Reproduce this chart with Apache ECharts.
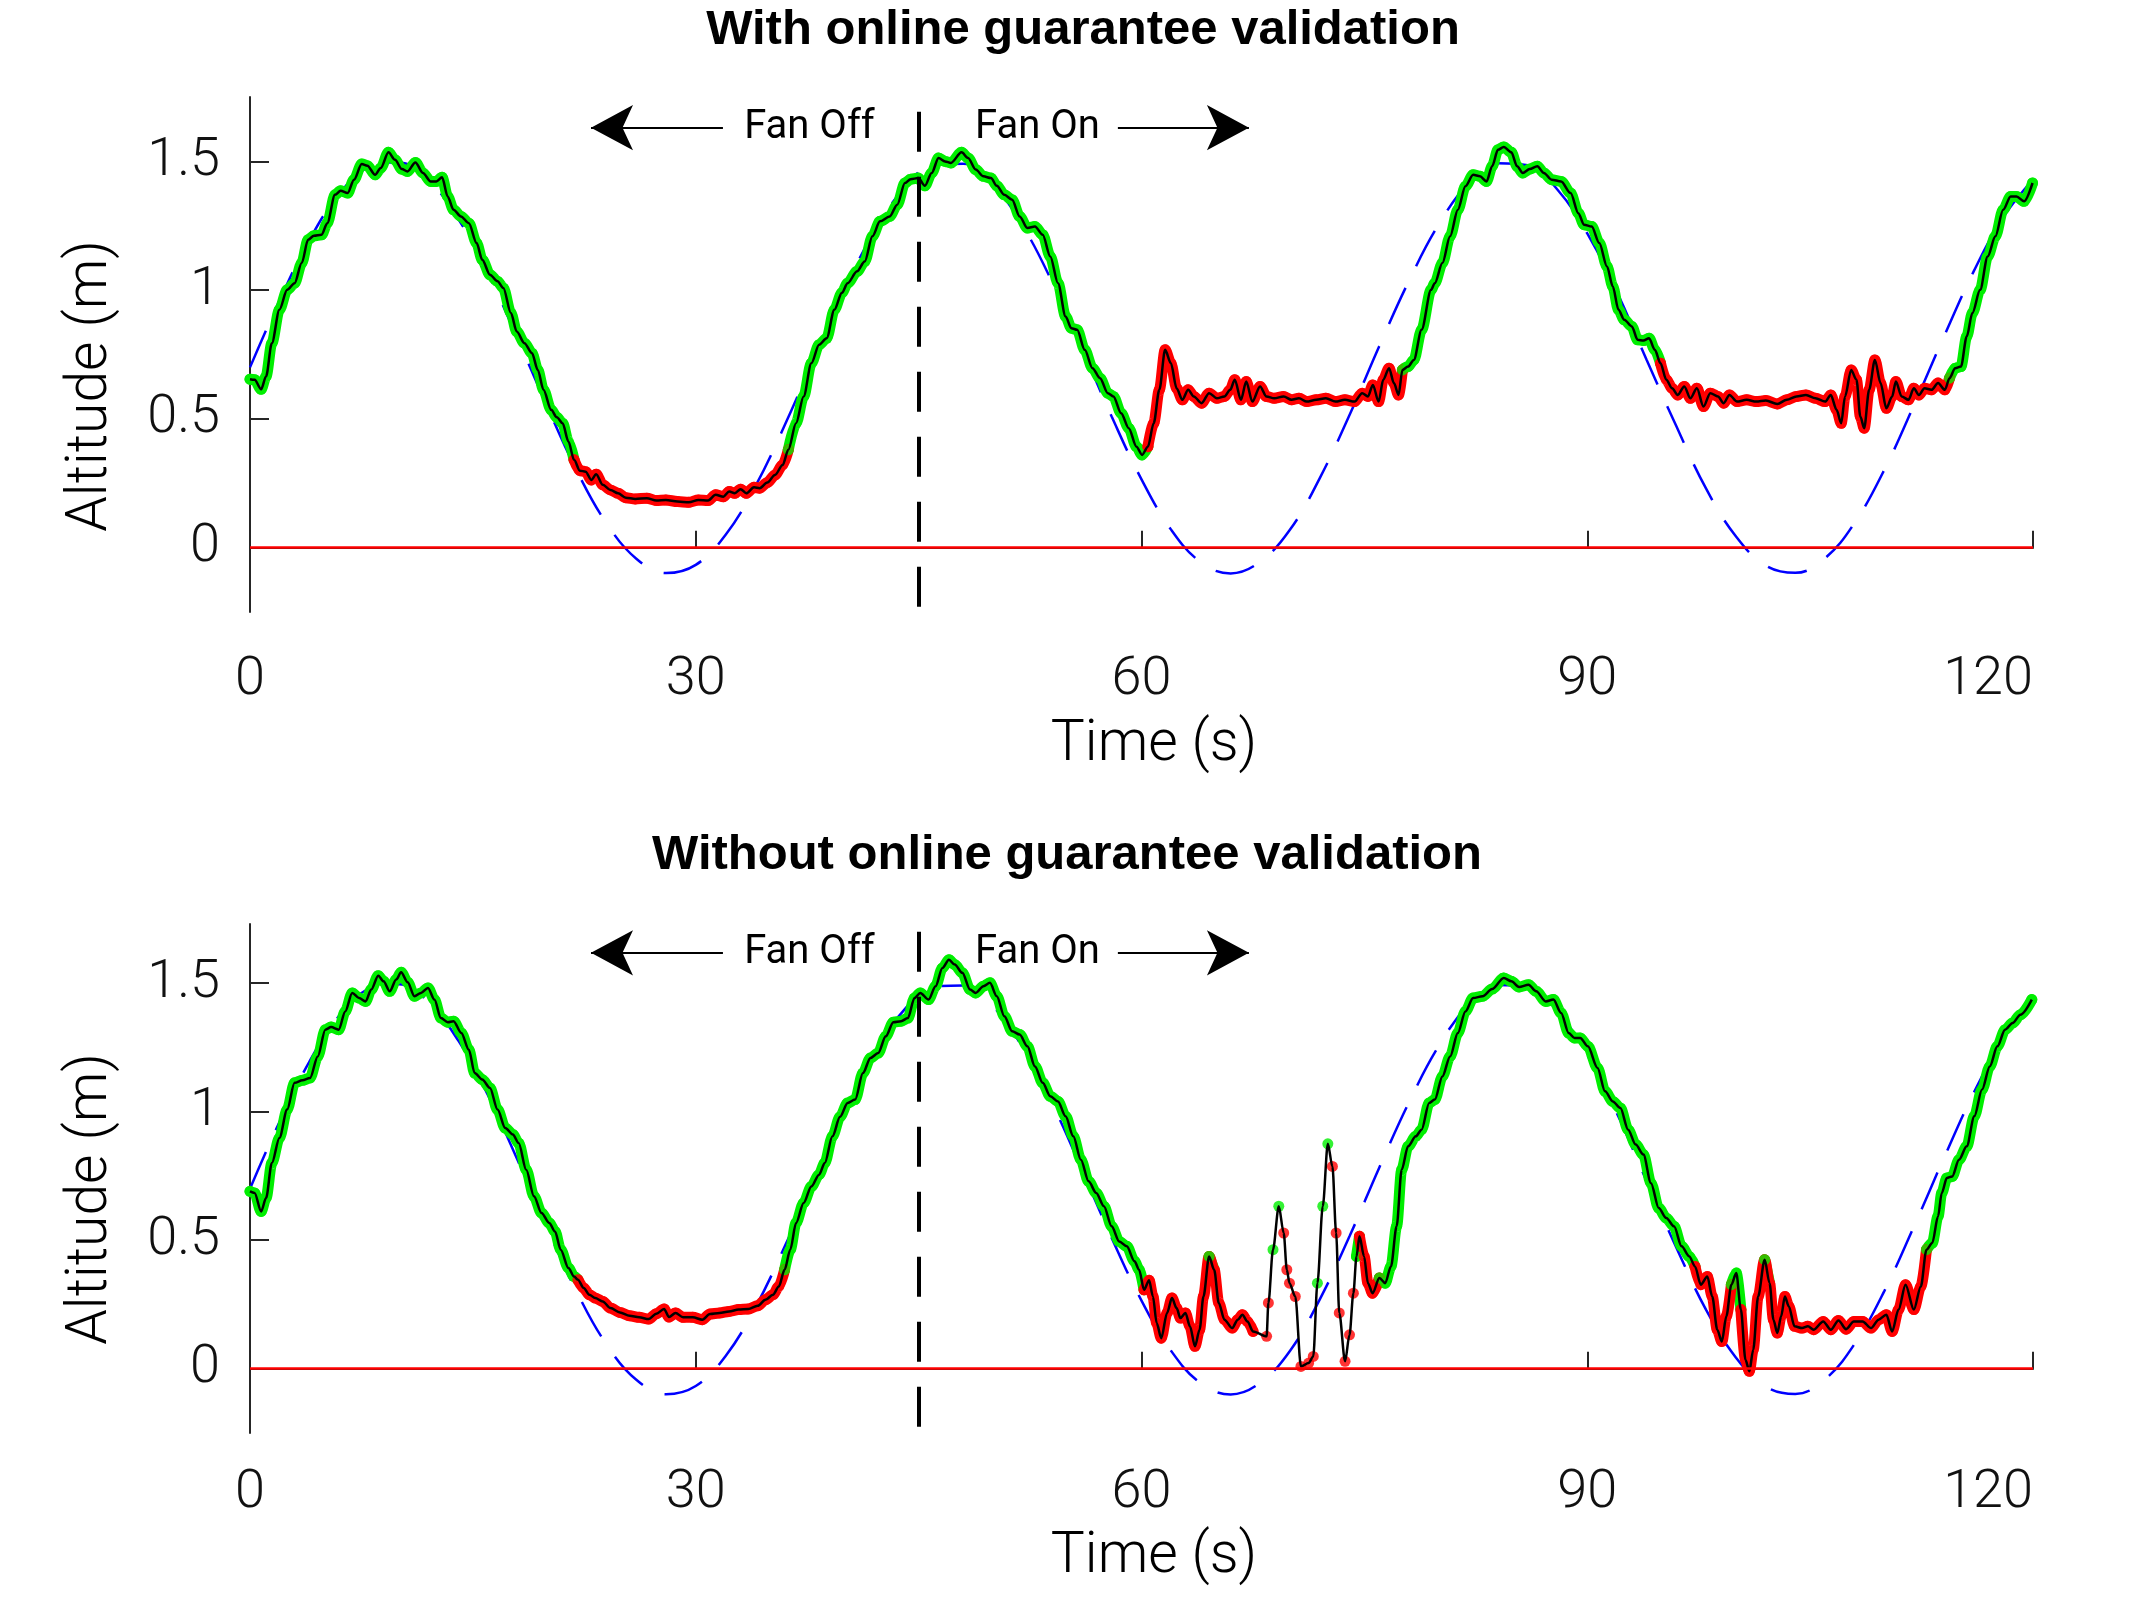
<!DOCTYPE html>
<html>
<head>
<meta charset="utf-8">
<title>Altitude tracking</title>
<script src="https://cdn.jsdelivr.net/npm/echarts@6/dist/echarts.min.js"></script>
<style>
  html, body { margin: 0; padding: 0; background: #fff; }
  #chart { width: 2134px; height: 1600px; }
</style>
</head>
<body>
<div id="chart"></div>
<script>
// reference altitude (blue dashed), sampled every 2 s
const refTime = [0, 2, 4, 6, 8, 10, 12, 14, 16, 18, 20, 22, 24, 26, 28, 30, 32, 34, 36, 38, 40,
  42, 44, 46, 48, 50, 52, 54, 56, 58, 60, 62, 64, 66, 68, 70, 72, 74, 76, 78, 80,
  82, 84, 86, 88, 90, 92, 94, 96, 98, 100, 102, 104, 106, 108, 110, 112, 114, 116, 118, 120]
const refAlt = [0.700, 0.962, 1.195, 1.373, 1.478, 1.496, 1.427, 1.278, 1.066, 0.813, 0.548,
  0.298, 0.094, -0.043, -0.099, -0.067, 0.049, 0.237, 0.477, 0.740, 1.000,
  1.226, 1.394, 1.486, 1.491, 1.410, 1.250, 1.030, 0.773, 0.508, 0.265,
  0.069, -0.057, -0.100, -0.054, 0.070, 0.270, 0.515, 0.782, 1.036, 1.255,
  1.414, 1.493, 1.485, 1.390, 1.220, 0.993, 0.729, 0.471, 0.229, 0.044,
  -0.069, -0.098, -0.041, 0.097, 0.303, 0.555, 0.819, 1.072, 1.283, 1.430]

// measured altitude, with online guarantee validation
const topTime = [0, 0.31, 0.75, 1.08, 1.47, 1.98, 2.5, 3.0, 3.48, 3.91, 4.3, 4.82, 5.2, 5.72, 6.1, 6.57,
  7.0, 7.52, 7.9, 8.42, 8.8, 9.32, 9.76, 10.22, 10.6, 11.13, 11.64, 12.16, 12.54, 12.93, 13.3,
  13.7, 14.2, 14.73, 15.25, 15.63, 16.15, 16.66, 17.05, 17.56, 17.95, 18.47, 18.98, 19.37, 19.75,
  20.27, 20.65, 21.04, 21.43, 21.81, 22.2, 22.59, 22.97, 23.3, 23.74, 24.26, 24.77, 25.29, 25.93,
  26.71, 27.35, 27.99, 28.77, 29.54, 30.18, 30.83, 31.34, 31.86, 32.25, 32.63, 33.02, 33.4, 33.92,
  34.3, 34.82, 35.33, 35.85, 36.23, 36.75, 37.26, 37.78, 38.3, 38.81, 39.33, 39.84, 40.22, 40.86,
  41.37, 41.89, 42.4, 43.05, 43.56, 44.08, 44.46, 44.98, 45.42, 45.88, 46.34, 46.78, 47.17, 47.89,
  48.33, 48.84, 49.36, 49.87, 50.26, 50.77, 51.29, 51.8, 52.32, 52.83, 53.35, 53.86, 54.38, 54.89,
  55.28, 55.67, 56.18, 56.7, 57.21, 57.73, 58.11, 58.63, 59.14, 59.66, 60.04, 60.43, 60.82, 61.2,
  61.59, 61.98, 62.36, 62.75, 63.14, 63.52, 64.04, 64.55, 65.07, 65.58, 65.97, 66.28, 66.69, 67.05,
  67.46, 67.98, 68.41, 68.93, 69.57, 70.09, 70.6, 71.12, 71.76, 72.41, 73.05, 73.69, 74.34, 74.85,
  75.24, 75.57, 75.96, 76.27, 76.66, 76.99, 77.3, 77.56, 77.94, 78.33, 78.85, 79.49, 79.74, 80.25,
  80.77, 81.29, 81.8, 82.32, 82.78, 83.22, 83.6, 83.99, 84.38, 84.89, 85.28, 85.66, 86.13, 86.64,
  87.08, 87.6, 88.24, 88.88, 89.4, 89.78, 90.3, 90.81, 91.33, 91.72, 92.1, 92.49, 93.0, 93.39,
  93.78, 94.16, 94.55, 94.93, 95.32, 95.71, 96.09, 96.53, 96.94, 97.38, 97.82, 98.28, 98.8, 99.18,
  99.57, 100.08, 100.73, 101.37, 102.02, 102.79, 103.43, 104.08, 104.72, 105.36, 106.01, 106.39,
  106.78, 107.09, 107.35, 107.76, 108.12, 108.38, 108.64, 108.97, 109.36, 109.74, 110.13, 110.52,
  110.77, 111.16, 111.62, 111.98, 112.32, 112.7, 113.17, 113.61, 114.07, 114.38, 114.76, 115.15,
  115.54, 115.92, 116.44, 116.95, 117.47, 117.99, 118.5, 118.89, 119.4, 119.97]
const topAlt = [0.654, 0.652, 0.615, 0.665, 0.794, 0.924, 1.001, 1.027, 1.105, 1.196, 1.211, 1.215, 1.260, 1.370, 1.386, 1.377,
  1.429, 1.490, 1.483, 1.448, 1.474, 1.535, 1.506, 1.470, 1.461, 1.496, 1.455, 1.422, 1.422, 1.438, 1.364,
  1.312, 1.286, 1.260, 1.183, 1.118, 1.060, 1.034, 1.008, 0.911, 0.839, 0.794, 0.755, 0.690, 0.613,
  0.535, 0.506, 0.483, 0.412, 0.341, 0.299, 0.295, 0.263, 0.285, 0.244, 0.224, 0.211, 0.194, 0.189,
  0.192, 0.183, 0.185, 0.179, 0.176, 0.185, 0.183, 0.205, 0.198, 0.218, 0.211, 0.227, 0.211, 0.234,
  0.231, 0.253, 0.282, 0.321, 0.380, 0.483, 0.587, 0.716, 0.788, 0.813, 0.924, 0.990, 1.027, 1.073,
  1.111, 1.209, 1.267, 1.286, 1.332, 1.416, 1.431, 1.435, 1.405, 1.455, 1.513, 1.500, 1.494, 1.535,
  1.513, 1.468, 1.442, 1.435, 1.405, 1.370, 1.351, 1.286, 1.241, 1.247, 1.215, 1.131, 1.027, 0.898,
  0.852, 0.846, 0.768, 0.697, 0.658, 0.600, 0.587, 0.522, 0.464, 0.392, 0.360, 0.392, 0.483, 0.613,
  0.768, 0.716, 0.619, 0.574, 0.613, 0.587, 0.561, 0.600, 0.580, 0.587, 0.613, 0.652, 0.574, 0.645,
  0.567, 0.626, 0.587, 0.580, 0.587, 0.574, 0.580, 0.567, 0.574, 0.580, 0.567, 0.574, 0.567, 0.600,
  0.587, 0.632, 0.567, 0.652, 0.697, 0.639, 0.593, 0.690, 0.703, 0.729, 0.846, 1.001, 1.027, 1.105,
  1.209, 1.312, 1.403, 1.448, 1.442, 1.422, 1.481, 1.545, 1.556, 1.535, 1.481, 1.455, 1.470, 1.481,
  1.455, 1.429, 1.422, 1.377, 1.299, 1.254, 1.247, 1.183, 1.092, 1.014, 0.924, 0.885, 0.859, 0.807,
  0.804, 0.813, 0.768, 0.716, 0.652, 0.619, 0.593, 0.626, 0.580, 0.619, 0.548, 0.600, 0.587, 0.561,
  0.593, 0.567, 0.574, 0.567, 0.571, 0.558, 0.574, 0.587, 0.593, 0.580, 0.567, 0.593,
  0.535, 0.483, 0.587, 0.690, 0.652, 0.509, 0.464, 0.613, 0.729, 0.639, 0.541, 0.587,
  0.645, 0.587, 0.574, 0.619, 0.593, 0.619, 0.613, 0.639, 0.613, 0.658, 0.697, 0.703,
  0.820, 0.911, 1.001, 1.131, 1.209, 1.312, 1.364, 1.364, 1.345, 1.416]
// time windows where the guarantee is flagged (red)
const topInvalid = [[21.45, 35.85], [60.1, 77.5], [94.9, 114.35]]
const topSparse = []

// measured altitude, without online guarantee validation
const botTime = [0, 0.31, 0.75, 1.08, 1.47, 1.98, 2.5, 3.0, 3.53, 4.04, 4.56, 5.07, 5.46, 5.97, 6.41, 6.88,
  7.34, 7.78, 8.16, 8.63, 8.99, 9.4, 9.84, 10.17, 10.61, 11.07, 11.51, 11.98, 12.41, 12.85, 13.31,
  13.7, 14.22, 14.73, 15.12, 15.63, 16.15, 16.66, 17.18, 17.69, 18.08, 18.59, 19.11, 19.62, 20.14,
  20.53, 20.91, 21.43, 21.81, 22.07, 22.46, 22.84, 23.23, 23.74, 24.26, 24.9, 25.55, 26.19, 26.83,
  27.35, 27.87, 28.2, 28.64, 29.15, 29.8, 30.44, 30.96, 31.6, 32.24, 32.89, 33.53, 34.17, 34.69,
  35.2, 35.59, 35.98, 36.36, 36.75, 37.26, 37.78, 38.3, 38.68, 39.2, 39.71, 40.22, 40.73, 41.25,
  41.76, 42.28, 42.79, 43.3, 43.82, 44.28, 44.72, 45.11, 45.67, 46.14, 46.6, 47.04, 47.43, 47.94,
  48.46, 48.84, 49.36, 49.8, 50.26, 50.77, 51.29, 51.8, 52.32, 52.83, 53.35, 53.86, 54.38, 54.89,
  55.41, 55.92, 56.44, 56.95, 57.47, 57.99, 58.5, 59.01, 59.53, 59.84, 60.17, 60.51, 60.77, 61.02,
  61.33, 61.72, 62.05, 62.36, 62.62, 62.96, 63.26, 63.6, 63.91, 64.17, 64.55, 64.89, 65.2, 65.58,
  66.1, 66.48, 66.79, 67.13, 67.51, 68.42, 68.54, 68.85, 69.24, 69.57, 69.78, 69.96, 70.35, 70.73,
  71.25, 71.56, 71.84, 72.2, 72.54, 72.85, 73.1, 73.31, 73.7, 74.0, 74.26, 74.47, 74.67, 74.98,
  75.24, 75.55, 76.01, 76.4, 76.79, 77.17, 77.51, 77.94, 78.46, 78.85, 79.36, 79.74, 80.25, 80.77,
  81.29, 81.8, 82.32, 82.96, 83.6, 84.38, 84.89, 85.41, 86.05, 86.56, 87.21, 87.72, 88.24, 88.75,
  89.14, 89.53, 90.04, 90.69, 91.2, 91.72, 92.23, 92.75, 93.26, 93.78, 94.29, 94.81, 95.32, 95.84,
  96.35, 96.87, 97.25, 97.64, 98.08, 98.41, 98.75, 99.06, 99.36, 99.7, 100.03, 100.34, 100.65,
  100.91, 101.17, 101.5, 101.94, 102.27, 102.53, 102.79, 103.05, 103.3, 103.56, 103.95, 104.46,
  104.85, 105.24, 105.88, 106.39, 106.91, 107.42, 107.94, 108.53, 109.1, 109.61, 110.13, 110.52,
  110.95, 111.42, 111.98, 112.45, 112.83, 113.22, 113.61, 113.86, 114.2, 114.56, 115.02, 115.54,
  116.05, 116.57, 117.09, 117.6, 118.12, 118.63, 119.15, 119.92]
const botAlt = [0.690, 0.684, 0.612, 0.664, 0.800, 0.898, 1.008, 1.112, 1.122, 1.131, 1.215, 1.319, 1.329, 1.319, 1.390, 1.462,
  1.442, 1.429, 1.475, 1.529, 1.507, 1.468, 1.514, 1.542, 1.503, 1.449, 1.462, 1.481, 1.436, 1.364, 1.348,
  1.352, 1.306, 1.241, 1.150, 1.125, 1.092, 1.008, 0.936, 0.911, 0.878, 0.774, 0.671, 0.606, 0.567,
  0.534, 0.463, 0.392, 0.359, 0.346, 0.314, 0.288, 0.275, 0.262, 0.236, 0.219, 0.206, 0.200, 0.193,
  0.214, 0.232, 0.201, 0.217, 0.200, 0.200, 0.191, 0.213, 0.217, 0.223, 0.230, 0.232, 0.245, 0.268,
  0.288, 0.320, 0.385, 0.463, 0.567, 0.645, 0.709, 0.755, 0.800, 0.904, 0.980, 1.034, 1.047, 1.150,
  1.209, 1.228, 1.293, 1.348, 1.352, 1.364, 1.442, 1.462, 1.436, 1.488, 1.559, 1.591, 1.572, 1.540,
  1.475, 1.462, 1.488, 1.501, 1.449, 1.371, 1.313, 1.300, 1.254, 1.176, 1.112, 1.060, 1.040, 0.982,
  0.904, 0.813, 0.729, 0.684, 0.632, 0.554, 0.495, 0.476, 0.418, 0.385, 0.307, 0.344, 0.281, 0.178,
  0.119, 0.217, 0.275, 0.236, 0.197, 0.217, 0.165, 0.087, 0.152, 0.281, 0.437, 0.385, 0.256, 0.191,
  0.158, 0.191, 0.210, 0.184, 0.145, 0.126, 0.256, 0.463, 0.632, 0.528, 0.385, 0.333, 0.281, 0.009,
  0.022, 0.048, 0.333, 0.632, 0.875, 0.787, 0.528, 0.217, 0.029, 0.132, 0.294, 0.437, 0.515, 0.437,
  0.333, 0.294, 0.353, 0.333, 0.398, 0.554, 0.774, 0.865, 0.904, 0.930, 1.034, 1.047, 1.137, 1.215,
  1.306, 1.390, 1.442, 1.449, 1.477, 1.520, 1.507, 1.485, 1.494, 1.468, 1.429, 1.436, 1.384, 1.306,
  1.287, 1.287, 1.254, 1.170, 1.079, 1.040, 1.014, 0.930, 0.872, 0.833, 0.722, 0.625, 0.586, 0.554,
  0.476, 0.437, 0.398, 0.327, 0.359, 0.281, 0.152, 0.106, 0.204, 0.327, 0.372, 0.230, 0.035,
  -0.010, 0.074, 0.281, 0.424, 0.333, 0.191, 0.139, 0.204, 0.281, 0.243, 0.165, 0.158,
  0.165, 0.152, 0.184, 0.152, 0.188, 0.154, 0.184, 0.184, 0.158, 0.191, 0.210, 0.145,
  0.230, 0.327, 0.230, 0.320, 0.463, 0.489, 0.593, 0.684, 0.742, 0.748, 0.813, 0.865,
  0.982, 1.086, 1.176, 1.254, 1.319, 1.345, 1.377, 1.436]
const botInvalid = [[22.0, 35.6], [59.9, 64.3], [64.6, 68.7], [69.3, 71.8], [72.6, 74.3], [74.6, 76.0],
  [97.2, 99.6], [100.05, 101.5], [101.95, 112.5]]
// stretch where the samples are far apart and show as single dots
const botSparse = [[68.3, 74.3]]

const fanSwitch = 45
const yTicks = [0, 0.5, 1, 1.5]

const GREEN = '#00ee00'
const RED = '#ff0000'
const AXIS = '#262626'
const FONT = 'Roboto'

const chart = echarts.init(document.getElementById('chart'))

const inside = (t, wins) => wins.some(([a, b]) => t >= a && t <= b)
const colorOf = (t, invalid) => (inside(t, invalid) ? 'red' : 'green')

// thick band under the trace, split by colour
const bandData = (time, alt, invalid, sparse, want) =>
  time.map((t, i) => {
    if (inside(t, sparse)) return [t, null]
    const c = colorOf(t, invalid)
    const prevOk = i > 0 && !inside(time[i - 1], sparse) && colorOf(time[i - 1], invalid) === want
    return c === want || prevOk ? [t, alt[i]] : [t, null]
  })

const pairs = (time, alt) => time.map((t, i) => [t, alt[i]])

const makeAxes = (idx, yMax, labelMargin) => ({
  x: {
    gridIndex: idx,
    type: 'value',
    min: 0,
    max: 120,
    interval: 30,
    axisLine: { show: true, lineStyle: { color: AXIS, width: 2 } },
    axisTick: { show: true, inside: true, length: 17, lineStyle: { color: AXIS, width: 2 } },
    axisLabel: {
      margin: labelMargin,
      fontSize: 54,
      fontFamily: FONT,
      fontWeight: 300,
      color: '#111',
      alignMaxLabel: 'right'
    },
    splitLine: { show: false }
  },
  y: {
    gridIndex: idx,
    type: 'value',
    min: -0.25,
    max: yMax,
    axisLine: { show: true, lineStyle: { color: AXIS, width: 2 } },
    axisTick: {
      show: true,
      inside: true,
      length: 19,
      customValues: yTicks,
      lineStyle: { color: AXIS, width: 2 }
    },
    axisLabel: {
      customValues: yTicks,
      margin: 30,
      fontSize: 54,
      fontFamily: FONT,
      fontWeight: 300,
      color: '#111'
    },
    splitLine: { show: false }
  }
})

const makeSeries = (idx, time, alt, invalid, sparse, dashTop, arrowY) => {
  const base = { xAxisIndex: idx, yAxisIndex: idx, animation: false, silent: true }
  return [
    // reference trajectory + ground line
    {
      ...base,
      type: 'line',
      z: 1,
      data: pairs(refTime, refAlt),
      smooth: 0.4,
      showSymbol: false,
      lineStyle: { color: '#0000ff', width: 2.5, type: [40, 24] },
      markLine: {
        silent: true,
        symbol: 'none',
        label: { show: false },
        lineStyle: { color: RED, width: 2.5, type: 'solid' },
        data: [{ yAxis: 0 }]
      }
    },
    {
      ...base,
      type: 'line',
      z: 2,
      data: bandData(time, alt, invalid, sparse, 'green'),
      smooth: 0.3,
      smoothMonotone: 'x',
      showSymbol: false,
      lineStyle: { color: GREEN, width: 11, cap: 'round', join: 'round' }
    },
    {
      ...base,
      type: 'line',
      z: 2,
      data: bandData(time, alt, invalid, sparse, 'red'),
      smooth: 0.3,
      smoothMonotone: 'x',
      showSymbol: false,
      lineStyle: { color: RED, width: 11, cap: 'round', join: 'round' }
    },
    {
      ...base,
      type: 'scatter',
      z: 3,
      data: pairs(time, alt),
      symbolSize: 11,
      itemStyle: { color: (p) => (colorOf(p.value[0], invalid) === 'red' ? RED : GREEN) }
    },
    // measured trace + annotations
    {
      ...base,
      type: 'line',
      z: 4,
      data: pairs(time, alt),
      smooth: 0.3,
      smoothMonotone: 'x',
      showSymbol: false,
      lineStyle: { color: '#000', width: 2.5 },
      markLine: {
        silent: true,
        label: { show: false },
        data: [
          [
            { coord: [fanSwitch, dashTop], symbol: 'none', lineStyle: { color: '#000', width: 4, type: [40, 25] } },
            { coord: [fanSwitch, -0.25], symbol: 'none' }
          ],
          [
            { coord: [31.83, arrowY], symbol: 'none', lineStyle: { color: '#000', width: 2, type: 'solid' } },
            { coord: [22.95, arrowY], symbol: 'arrow', symbolSize: [34, 42] }
          ],
          [
            { coord: [58.41, arrowY], symbol: 'none', lineStyle: { color: '#000', width: 2, type: 'solid' } },
            { coord: [67.23, arrowY], symbol: 'arrow', symbolSize: [34, 42] }
          ]
        ]
      },
      markPoint: {
        silent: true,
        symbol: 'rect',
        symbolSize: 1,
        itemStyle: { color: 'rgba(0,0,0,0)' },
        label: {
          show: true,
          position: 'inside',
          formatter: (p) => p.name,
          color: '#000',
          fontSize: 40,
          fontFamily: FONT
        },
        data: [
          { name: 'Fan Off', coord: [37.65, arrowY] },
          { name: 'Fan On', coord: [53.0, arrowY] }
        ]
      }
    }
  ]
}

const topAxes = makeAxes(0, 1.75, 41)
const botAxes = makeAxes(1, 1.73, 33)

const text = (x, y, str, size, weight, rot, family) => ({
  type: 'text',
  x: x,
  y: y,
  rotation: rot || 0,
  style: {
    text: str,
    fontSize: size,
    fontWeight: weight,
    fontFamily: family || FONT,
    fill: '#000',
    align: 'center',
    verticalAlign: 'middle'
  }
})

chart.setOption({
  backgroundColor: '#fff',
  animation: false,
  grid: [
    { left: 250, top: 97, width: 1783, height: 515 },
    { left: 250, top: 924, width: 1783, height: 509 }
  ],
  xAxis: [topAxes.x, botAxes.x],
  yAxis: [topAxes.y, botAxes.y],
  series: [
    ...makeSeries(0, topTime, topAlt, topInvalid, topSparse, 1.693, 1.631),
    ...makeSeries(1, botTime, botAlt, botInvalid, botSparse, 1.70, 1.618)
  ],
  graphic: [
    text(1083, 30, 'With online guarantee validation', 49, 'bold', 0, '"Liberation Sans", Arial'),
    text(1067, 855, 'Without online guarantee validation', 49, 'bold', 0, '"Liberation Sans", Arial'),
    text(1154, 746, 'Time (s)', 57, 300),
    text(1154, 1558, 'Time (s)', 57, 300),
    text(92, 386, 'Altitude (m)', 57, 300, Math.PI / 2),
    text(92, 1199, 'Altitude (m)', 57, 300, Math.PI / 2)
  ]
})
</script>
</body>
</html>
